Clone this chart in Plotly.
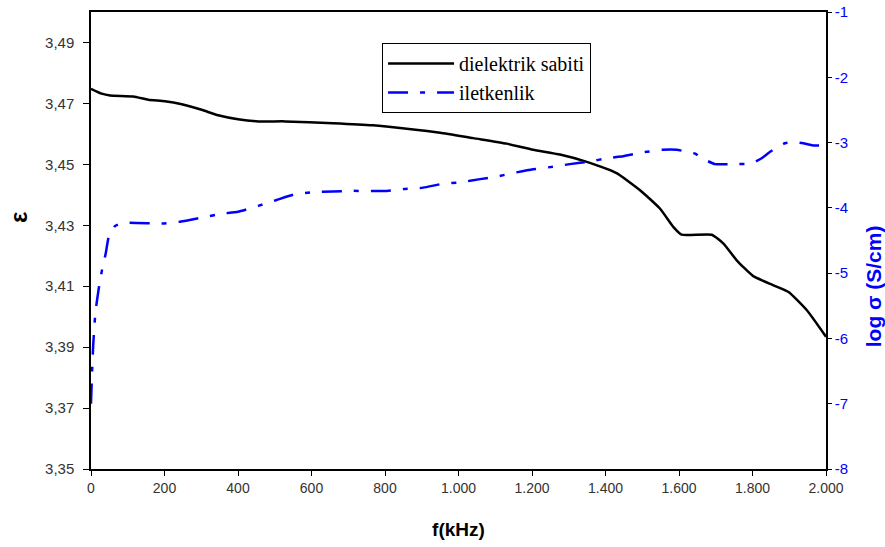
import plotly.graph_objects as go

# dielectric constant (left axis)
f_eps = [0, 29, 52, 115, 156, 201, 247, 301, 346, 400, 455, 528, 658, 767, 859, 950,
         1040, 1131, 1203, 1276, 1349, 1430, 1494, 1548, 1585, 1607, 1689, 1721, 1757,
         1802, 1857, 1898, 1948, 2000]
eps = [3.4748, 3.4732, 3.4726, 3.4723, 3.4712, 3.4707, 3.4697, 3.4679, 3.4661, 3.4648,
       3.4641, 3.4641, 3.4635, 3.4628, 3.4617, 3.4604, 3.4586, 3.4568, 3.4548, 3.4532,
       3.4508, 3.4471, 3.4415, 3.4355, 3.4294, 3.4269, 3.4269, 3.4240, 3.4185, 3.4133,
       3.4103, 3.4081, 3.4021, 3.3934]

# conductivity log sigma (right axis)
f_sig = [0, 3, 6, 12, 22, 30, 40, 48, 65, 85, 192, 245, 300, 355, 400, 455, 505, 550,
         604, 658, 705, 805, 854, 904, 958, 1004, 1059, 1104, 1154, 1203, 1257, 1303,
         1358, 1403, 1448, 1502, 1556, 1594, 1621, 1644, 1662, 1698, 1757, 1798, 1825,
         1848, 1888, 1911, 1938, 1961, 2000]
sig = [-7.0, -6.5, -6.1, -5.6, -5.2, -4.95, -4.7, -4.45, -4.28, -4.23, -4.24, -4.21,
       -4.15, -4.09, -4.06, -3.97, -3.88, -3.80, -3.76, -3.75, -3.74, -3.74, -3.71,
       -3.69, -3.63, -3.61, -3.56, -3.52, -3.46, -3.41, -3.37, -3.33, -3.29, -3.24,
       -3.21, -3.15, -3.11, -3.11, -3.14, -3.17, -3.24, -3.33, -3.33, -3.32, -3.24,
       -3.14, -3.01, -2.99, -3.01, -3.04, -3.05]

x_ticks = list(range(0, 2001, 200))
right_ticks = [-8, -7, -6, -5, -4, -3, -2, -1]
right_labels = ["-8", "-7", "-6", "-5", "-4", "-3", "-2", "-1"]

fig = go.Figure()
fig.add_trace(go.Scatter(x=f_eps, y=eps, mode="lines", name="dielektrik sabiti",
                         line=dict(color="black", width=2.5, shape="spline", smoothing=0.5)))
fig.add_trace(go.Scatter(x=f_sig, y=sig, mode="lines", name="iletkenlik", yaxis="y2",
                         line=dict(color="#0000FF", width=2.5, dash="20px,12px,5px,12px",
                                   shape="spline", smoothing=0.4)))

sans = "Liberation Sans, Arial"
fig.update_layout(
    width=885, height=547,
    margin=dict(l=91, r=59, t=12, b=78, autoexpand=False),
    paper_bgcolor="white", plot_bgcolor="white",
    separators=",.",
    showlegend=True,
    legend=dict(x=0.396, y=0.932, xanchor="left", yanchor="top",
                bordercolor="black", borderwidth=1, bgcolor="white",
                font=dict(family="Liberation Serif, Times New Roman", size=20, color="black"),
                tracegroupgap=0, itemwidth=66),
    xaxis=dict(range=[0, 2000], tickvals=x_ticks, tickformat=",", showgrid=False,
               zeroline=False, showline=True, linecolor="black", linewidth=1.5, mirror=True,
               ticks="outside", ticklen=5, tickcolor="black", automargin=False,
               tickfont=dict(family=sans, size=14, color="#333333"),
               title=dict(text="<b>f(kHz)</b>", font=dict(family=sans, size=19, color="black"),
                          standoff=28)),
    yaxis=dict(range=[3.35, 3.50], tick0=3.35, dtick=0.02, tickformat=".2f", showgrid=False,
               zeroline=False, showline=True, linecolor="black", linewidth=1.5,
               ticks="outside", ticklen=6, tickcolor="black", ticklabelstandoff=6,
               automargin=False,
               tickfont=dict(family=sans, size=15, color="#333333")),
    yaxis2=dict(range=[-8, -1], tickvals=right_ticks, ticktext=right_labels, overlaying="y",
                side="right", showgrid=False, zeroline=False, showline=True, linecolor="black",
                linewidth=1.5, ticks="outside", ticklen=4, tickcolor="black", automargin=False,
                tickfont=dict(family=sans, size=15, color="#0000FF")),
    annotations=[
        dict(text="<b>log σ (S/cm)</b>", xref="paper", yref="paper",
             x=1.064, y=0.40, textangle=-90, showarrow=False,
             xanchor="center", yanchor="middle",
             font=dict(family=sans, size=21, color="#0000FF")),
        dict(text="<b>ε</b>", xref="paper", yref="paper",
             x=-0.099, y=0.55, textangle=-90, showarrow=False,
             xanchor="center", yanchor="middle",
             font=dict(family=sans, size=24, color="black")),
    ],
)

fig.write_html("out.html")
